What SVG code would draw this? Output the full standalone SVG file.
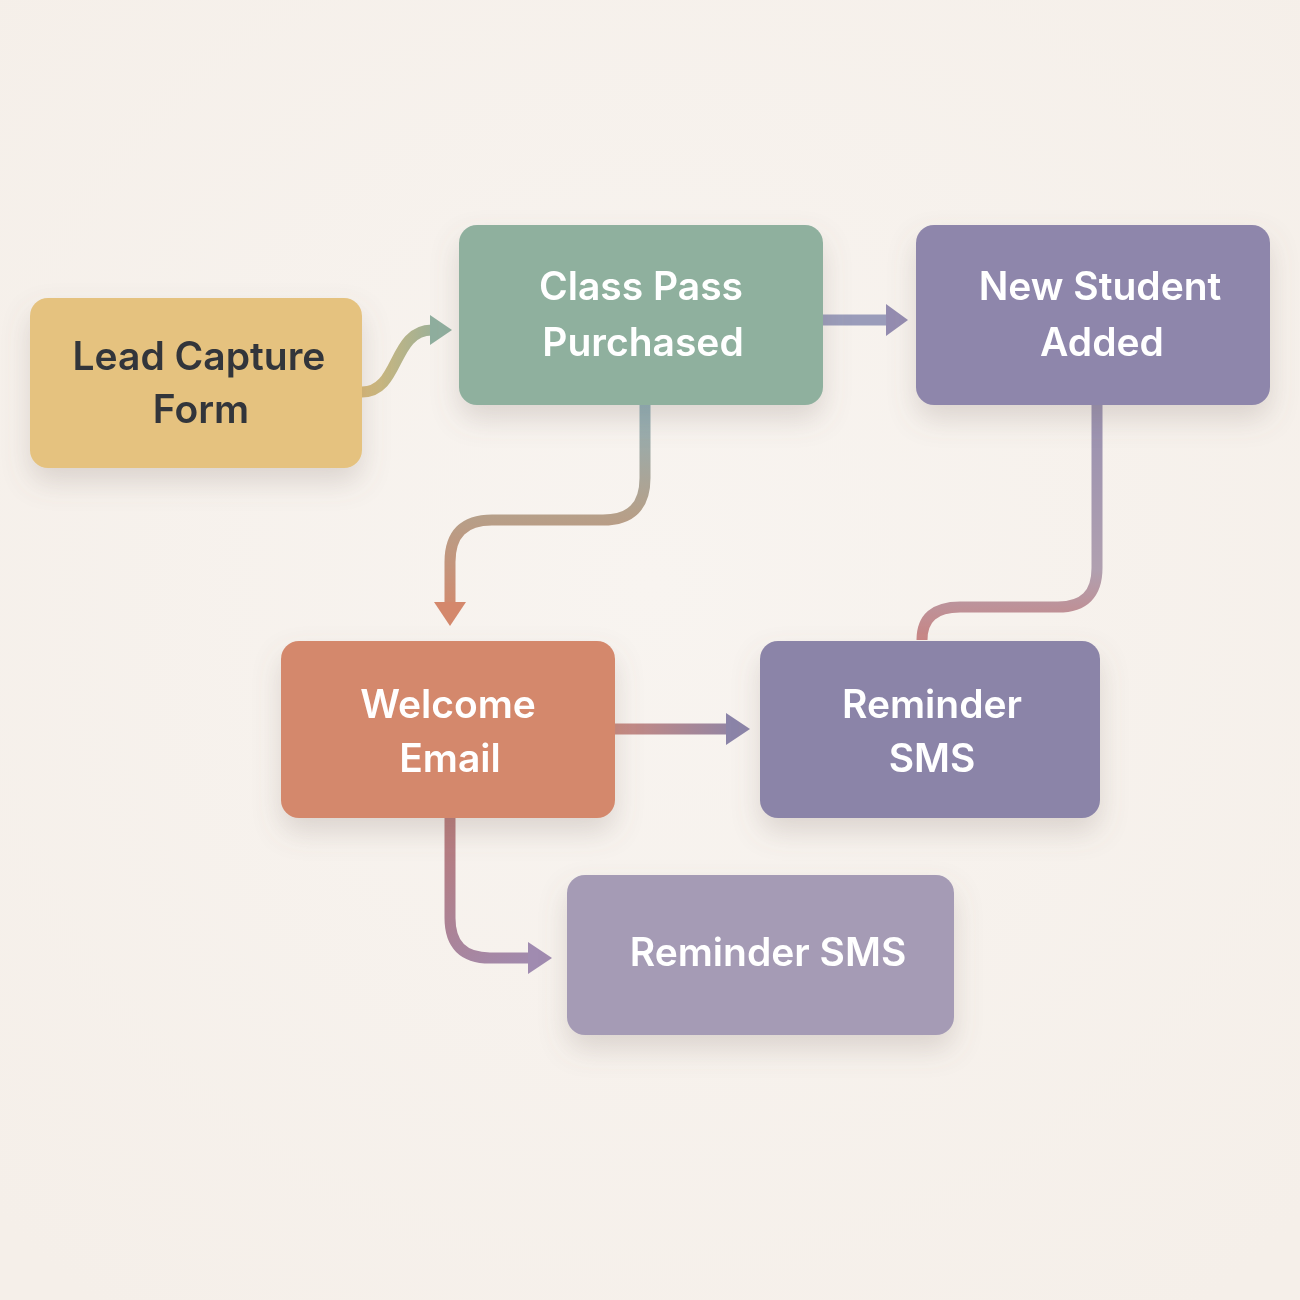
<svg xmlns="http://www.w3.org/2000/svg" width="1300" height="1300" viewBox="0 0 1300 1300">
<defs>
<style>
.t{font-family:"Inter","Liberation Sans",sans-serif;font-weight:600;font-size:39px;text-anchor:middle}
.w{fill:#ffffff}
.d{fill:#33363a}
.c{fill:none;stroke-width:11;stroke-linecap:butt}
</style>
<filter id="sh" x="-20%" y="-20%" width="140%" height="160%"><feDropShadow dx="0" dy="14" stdDeviation="14" flood-color="#7a6a60" flood-opacity="0.22"/></filter>
<linearGradient id="g1" gradientUnits="userSpaceOnUse" x1="362" y1="0" x2="450" y2="0"><stop offset="0" stop-color="#d7b878"/><stop offset="1" stop-color="#8fae9e"/></linearGradient>
<linearGradient id="g3" gradientUnits="userSpaceOnUse" x1="0" y1="405" x2="0" y2="620"><stop offset="0" stop-color="#8fb0b8"/><stop offset="0.5" stop-color="#b5a08a"/><stop offset="1" stop-color="#d4886c"/></linearGradient>
<linearGradient id="g4" gradientUnits="userSpaceOnUse" x1="0" y1="405" x2="0" y2="640"><stop offset="0" stop-color="#9890b0"/><stop offset="0.7" stop-color="#b0a0b0"/><stop offset="1" stop-color="#c98584"/></linearGradient>
<linearGradient id="g5" gradientUnits="userSpaceOnUse" x1="615" y1="0" x2="750" y2="0"><stop offset="0" stop-color="#c98a80"/><stop offset="1" stop-color="#8b84a8"/></linearGradient>
<linearGradient id="g6" gradientUnits="userSpaceOnUse" x1="450" y1="818" x2="550" y2="958"><stop offset="0" stop-color="#b87a7a"/><stop offset="1" stop-color="#a08bb0"/></linearGradient>
<radialGradient id="bg" cx="0.5" cy="0.45" r="0.7"><stop offset="0" stop-color="#f8f4f0"/><stop offset="1" stop-color="#f5efe9"/></radialGradient>
</defs>
<rect width="1300" height="1300" fill="url(#bg)"/>
<g id="connectors">
<path class="c" stroke="url(#g1)" d="M362,392 C400,392 392,330 432,330"/>
<polygon points="430,315 452,330 430,345" fill="#8fae9e"/>
<path class="c" stroke="#9a9cba" d="M823,320 H888"/>
<polygon points="886,304 908,320 886,336" fill="#948cb0"/>
<path class="c" stroke="url(#g3)" d="M645,405 V478 Q645,520 603,520 H492 Q450,520 450,562 V604"/>
<polygon points="434,602 450,626 466,602" fill="#d4886c"/>
<path class="c" stroke="url(#g4)" d="M1097,405 V568 Q1097,607 1058,607 H960 Q922,607 922,640"/>
<path class="c" stroke="url(#g5)" d="M615,729 H728"/>
<polygon points="726,713 750,729 726,745" fill="#8b84a8"/>
<path class="c" stroke="url(#g6)" d="M450,818 V918 Q450,958 490,958 H530"/>
<polygon points="528,942 552,958 528,974" fill="#a08bb0"/>
</g>
<g id="lead" filter="url(#sh)"><rect x="30" y="298" width="332" height="170" rx="18" fill="#e5c27f"/>
<text class="t d" x="199" y="370">Lead Capture</text><text class="t d" x="201" y="423">Form</text></g>
<g id="classpass" filter="url(#sh)"><rect x="459" y="225" width="364" height="180" rx="18" fill="#8fb09e"/>
<text class="t w" x="641" y="300">Class Pass</text><text class="t w" x="643" y="356">Purchased</text></g>
<g id="newstudent" filter="url(#sh)"><rect x="916" y="225" width="354" height="180" rx="18" fill="#8e86ab"/>
<text class="t w" x="1100" y="300">New Student</text><text class="t w" x="1102" y="356">Added</text></g>
<g id="welcome" filter="url(#sh)"><rect x="281" y="641" width="334" height="177" rx="18" fill="#d4886c"/>
<text class="t w" x="448" y="718">Welcome</text><text class="t w" x="450" y="772">Email</text></g>
<g id="reminder1" filter="url(#sh)"><rect x="760" y="641" width="340" height="177" rx="18" fill="#8b84a8"/>
<text class="t w" x="932" y="718">Reminder</text><text class="t w" x="932" y="772">SMS</text></g>
<g id="reminder2" filter="url(#sh)"><rect x="567" y="875" width="387" height="160" rx="18" fill="#a59bb5"/>
<text class="t w" x="768" y="966">Reminder SMS</text></g>
</svg>
